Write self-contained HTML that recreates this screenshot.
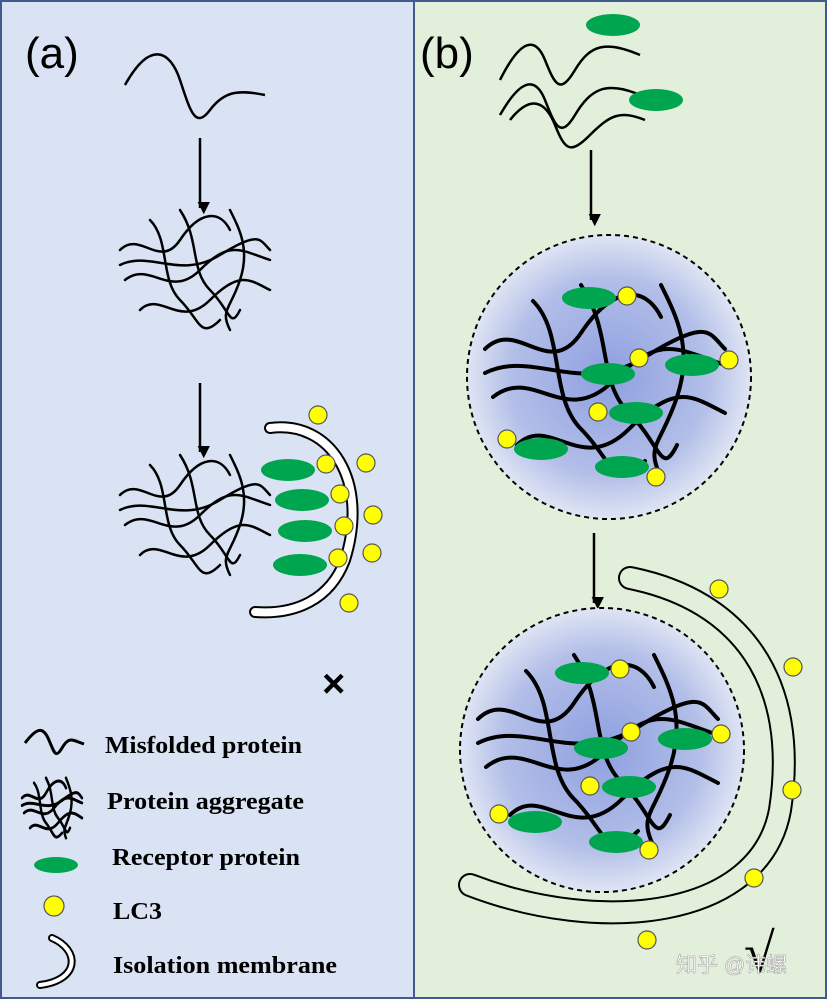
<!DOCTYPE html>
<html><head><meta charset="utf-8"><style>
body{margin:0;width:827px;height:999px;overflow:hidden;background:#fff}
svg{display:block}
text{font-family:"Liberation Serif",serif;font-weight:bold}
</style></head><body>
<svg width="827" height="999" viewBox="0 0 827 999" xmlns="http://www.w3.org/2000/svg">
<defs>
<radialGradient id="g" cx="50%" cy="50%" r="50%">
<stop offset="0" stop-color="#8e9fe0"/><stop offset="0.7" stop-color="#b3bfe8"/><stop offset="1" stop-color="#dfe5f4"/>
</radialGradient>
<marker id="ar" viewBox="0 0 10 10" refX="5" refY="8" markerWidth="5" markerHeight="5" orient="auto"><path d="M0,0 L10,5 L0,10z" fill="#000"/></marker>
<g id="agg" fill="none" stroke="#000" stroke-width="2.5" stroke-linecap="round">
<path d="M0,40 C20,20 40,60 60,30 S100,0 110,20"/>
<path d="M5,70 C30,50 50,90 80,60 S120,40 150,50"/>
<path d="M20,100 C40,80 60,120 90,90 S130,70 150,80"/>
<path d="M30,10 C50,30 40,70 60,90 S80,130 100,110"/>
<path d="M60,0 C80,30 70,60 90,80 S110,120 120,100"/>
<path d="M110,0 C120,20 130,40 120,70 S100,100 110,120"/>
<path d="M0,55 C30,40 60,70 100,45 S140,30 150,40"/>
</g>
</defs>
<rect x="1" y="1" width="413" height="997" fill="#dae3f3" stroke="#41598b" stroke-width="2"/>
<rect x="414" y="1" width="412" height="997" fill="#e2efda" stroke="#41598b" stroke-width="2"/>
<text x="25" y="68" font-size="44" style="font-family:'Liberation Sans',sans-serif;font-weight:normal">(a)</text>
<text x="420" y="68" font-size="44" style="font-family:'Liberation Sans',sans-serif;font-weight:normal">(b)</text>

<path d="M125,85 C150,40 170,50 180,80 S195,130 210,110 S240,90 265,95" fill="none" stroke="#000" stroke-width="2.5"/>
<line x1="200" y1="138" x2="200" y2="208" stroke="#000" stroke-width="2.5" marker-end="url(#ar)"/>
<use href="#agg" x="120" y="210"/>
<line x1="200" y1="383" x2="200" y2="452" stroke="#000" stroke-width="2.5" marker-end="url(#ar)"/>
<use href="#agg" x="120" y="455"/>
<path d="M270,428 C330,420 370,480 345,560 C330,600 295,615 255,612" fill="none" stroke="#000" stroke-width="12" stroke-linecap="round"/>
<path d="M270,428 C330,420 370,480 345,560 C330,600 295,615 255,612" fill="none" stroke="#fff" stroke-width="8" stroke-linecap="round"/>
<g fill="#00a550">
<ellipse cx="288" cy="470" rx="27" ry="11"/><ellipse cx="302" cy="500" rx="27" ry="11"/><ellipse cx="305" cy="531" rx="27" ry="11"/><ellipse cx="300" cy="565" rx="27" ry="11"/>
</g>
<g fill="#ffff00" stroke="#555" stroke-width="1.2">
<circle cx="318" cy="415" r="9"/><circle cx="326" cy="464" r="9"/><circle cx="366" cy="463" r="9"/><circle cx="340" cy="494" r="9"/><circle cx="373" cy="515" r="9"/><circle cx="344" cy="526" r="9"/><circle cx="372" cy="553" r="9"/><circle cx="338" cy="558" r="9"/><circle cx="349" cy="603" r="9"/>
</g>
<text x="322" y="697" font-size="40" style="font-family:'Liberation Sans',sans-serif">×</text>

<path d="M25,743 C35,730 42,725 48,738 S55,760 62,748 S72,740 84,744" fill="none" stroke="#000" stroke-width="3"/>
<text x="105" y="753" font-size="24" textLength="197" lengthAdjust="spacingAndGlyphs">Misfolded protein</text>
<g transform="translate(22,778) scale(0.4,0.5)" fill="none" stroke="#000" stroke-width="6" stroke-linecap="round">
<path d="M0,40 C20,20 40,60 60,30 S100,0 110,20"/><path d="M5,70 C30,50 50,90 80,60 S120,40 150,50"/><path d="M20,100 C40,80 60,120 90,90 S130,70 150,80"/><path d="M30,10 C50,30 40,70 60,90 S80,130 100,110"/><path d="M60,0 C80,30 70,60 90,80 S110,120 120,100"/><path d="M110,0 C120,20 130,40 120,70 S100,100 110,120"/><path d="M0,55 C30,40 60,70 100,45 S140,30 150,40"/>
</g>
<text x="107" y="809" font-size="24" textLength="197" lengthAdjust="spacingAndGlyphs">Protein aggregate</text>
<ellipse cx="56" cy="865" rx="22" ry="8" fill="#00a550"/>
<text x="112" y="865" font-size="24" textLength="188" lengthAdjust="spacingAndGlyphs">Receptor protein</text>
<circle cx="54" cy="906" r="10" fill="#ffff00" stroke="#555" stroke-width="1.2"/>
<text x="113" y="919" font-size="24" textLength="49" lengthAdjust="spacingAndGlyphs">LC3</text>
<path d="M52,938 C80,950 80,980 40,985" fill="none" stroke="#000" stroke-width="8" stroke-linecap="round"/>
<path d="M52,938 C80,950 80,980 40,985" fill="none" stroke="#fff" stroke-width="4" stroke-linecap="round"/>
<text x="113" y="973" font-size="24" textLength="224" lengthAdjust="spacingAndGlyphs">Isolation membrane</text>

<g fill="none" stroke="#000" stroke-width="2.5">
<path d="M500,80 C520,40 535,35 545,60 S560,95 575,70 S605,40 640,55"/>
<path d="M500,115 C520,80 535,75 545,100 S560,140 575,115 S605,80 640,95"/>
<path d="M510,120 C530,95 545,100 555,125 S570,155 590,135 S620,110 645,120"/>
</g>
<ellipse cx="613" cy="25" rx="27" ry="11" fill="#00a550"/>
<ellipse cx="656" cy="100" rx="27" ry="11" fill="#00a550"/>
<line x1="591" y1="150" x2="591" y2="220" stroke="#000" stroke-width="2.5" marker-end="url(#ar)"/>

<circle cx="609" cy="377" r="142" fill="url(#g)" stroke="#000" stroke-width="2" stroke-dasharray="5,4"/>
<g transform="translate(485,285) scale(1.6)"><use href="#agg"/></g>
<g fill="#00a550">
<ellipse cx="589" cy="298" rx="27" ry="11"/><ellipse cx="608" cy="374" rx="27" ry="11"/><ellipse cx="692" cy="365" rx="27" ry="11"/><ellipse cx="636" cy="413" rx="27" ry="11"/><ellipse cx="541" cy="449" rx="27" ry="11"/><ellipse cx="622" cy="467" rx="27" ry="11"/>
</g>
<g fill="#ffff00" stroke="#555" stroke-width="1.2">
<circle cx="627" cy="296" r="9"/><circle cx="639" cy="358" r="9"/><circle cx="729" cy="360" r="9"/><circle cx="598" cy="412" r="9"/><circle cx="507" cy="439" r="9"/><circle cx="656" cy="477" r="9"/>
</g>
<line x1="594" y1="533" x2="594" y2="603" stroke="#000" stroke-width="2.5" marker-end="url(#ar)"/>

<path d="M630,578 C740,600 800,680 780,810 C760,920 600,935 470,885" fill="none" stroke="#000" stroke-width="24" stroke-linecap="round"/>
<path d="M630,578 C740,600 800,680 780,810 C760,920 600,935 470,885" fill="none" stroke="#e2efda" stroke-width="20" stroke-linecap="round"/>
<circle cx="602" cy="750" r="142" fill="url(#g)" stroke="#000" stroke-width="2" stroke-dasharray="5,4"/>
<g transform="translate(478,655) scale(1.6)"><use href="#agg"/></g>
<g fill="#00a550">
<ellipse cx="582" cy="673" rx="27" ry="11"/><ellipse cx="601" cy="748" rx="27" ry="11"/><ellipse cx="685" cy="739" rx="27" ry="11"/><ellipse cx="629" cy="787" rx="27" ry="11"/><ellipse cx="535" cy="822" rx="27" ry="11"/><ellipse cx="616" cy="842" rx="27" ry="11"/>
</g>
<g fill="#ffff00" stroke="#555" stroke-width="1.2">
<circle cx="620" cy="669" r="9"/><circle cx="631" cy="732" r="9"/><circle cx="721" cy="734" r="9"/><circle cx="590" cy="786" r="9"/><circle cx="499" cy="814" r="9"/><circle cx="649" cy="850" r="9"/>
<circle cx="719" cy="589" r="9"/><circle cx="793" cy="667" r="9"/><circle cx="792" cy="790" r="9"/><circle cx="754" cy="878" r="9"/><circle cx="647" cy="940" r="9"/>
</g>
<text x="744" y="972" font-size="56" style="font-family:'Liberation Serif',serif">√</text>
<text x="676" y="972" font-size="21" fill="#fff" stroke="#999" stroke-width="0.5" style="font-family:'Liberation Sans','Noto Sans CJK SC',sans-serif;font-weight:normal">知乎 @讳螺</text>
</svg>
</body></html>
